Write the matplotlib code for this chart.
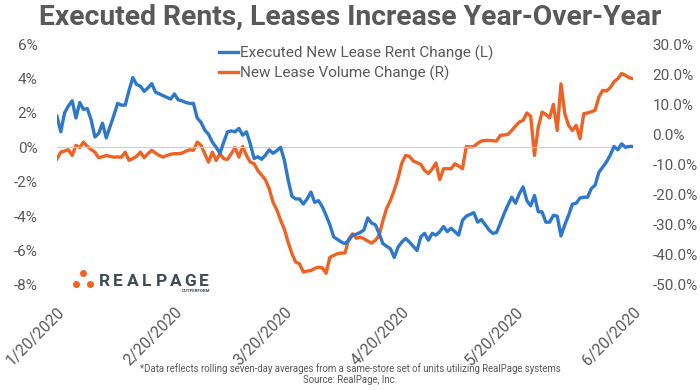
import numpy as np
import pandas as pd
import matplotlib
matplotlib.use("Agg")
import matplotlib.pyplot as plt
import matplotlib.dates as mdates
from matplotlib.ticker import FuncFormatter

plt.rcParams['font.family'] = ['Roboto', 'DejaVu Sans']

# daily rolling 7-day averages, 1/20/2020 .. 6/20/2020
dates = pd.date_range("2020-01-20", "2020-06-20", freq="D")

# Executed New Lease Rent Change (L), %
rent_change = [
    1.8, 0.9, 2.0, 2.4, 2.7, 1.7, 2.6, 2.2, 2.25, 1.6,
    0.6, 0.8, 1.4, 0.55, 1.2, 1.85, 2.55, 2.45, 2.45, 3.3,
    4.05, 3.65, 3.55, 3.25, 3.45, 3.7, 3.2, 3.1, 3.0, 2.9,
    2.8, 3.1, 2.75, 2.7, 2.6, 2.55, 2.55, 1.7, 1.45, 1.0,
    0.75, 0.3, 0.0, -0.35, 0.3, 0.9, 0.95, 0.9, 1.1, 0.7,
    0.9, 0.2, -0.65, -0.55, -0.7, -0.45, -0.15, -0.35, -0.2, 0.0,
    -0.75, -1.9, -2.85, -3.0, -3.0, -3.3, -3.0, -2.6, -3.2, -3.1,
    -3.45, -3.95, -4.5, -5.2, -5.35, -5.5, -5.6, -5.4, -5.1, -5.05,
    -4.95, -4.8, -4.1, -4.4, -4.5, -5.0, -5.6, -5.75, -5.9, -6.4,
    -5.8, -5.5, -5.3, -5.5, -5.75, -6.0, -5.2, -5.0, -5.4, -5.0,
    -5.1, -4.9, -4.6, -4.9, -4.7, -4.9, -5.1, -4.25, -4.0, -3.9,
    -3.8, -4.35, -4.2, -4.5, -4.8, -5.0, -4.95, -4.4, -3.85, -3.35,
    -2.9, -3.25, -2.7, -2.3, -3.1, -3.4, -2.8, -3.75, -3.75, -4.35,
    -4.35, -3.95, -4.0, -5.15, -4.5, -3.95, -3.3, -3.25, -2.95, -2.9,
    -2.9, -2.4, -2.2, -1.45, -1.15, -0.85, -0.45, 0.05, -0.15, 0.2,
    0.0, 0.05, 0.05,
]

# New Lease Volume Change (R), %
volume_change = [
    -8.1, -5.9, -5.5, -5.1, -7.0, -3.65, -4.4, -2.55, -4.0, -5.0,
    -5.9, -7.75, -7.4, -7.0, -7.3, -7.55, -7.5, -7.55, -5.9, -8.65,
    -8.0, -7.3, -5.9, -7.75, -6.4, -5.3, -6.2, -7.0, -7.55, -7.0,
    -6.6, -6.4, -6.4, -6.2, -5.6, -5.1, -5.3, -2.55, -3.65, -6.4,
    -9.2, -5.9, -8.65, -6.4, -8.1, -8.3, -6.4, -4.4, -7.55, -4.0,
    -7.0, -9.2, -9.75, -12.0, -13.5, -15.05, -18.05, -22.5, -25.0, -28.5,
    -31.5, -35.8, -39.6, -42.4, -42.95, -45.7, -45.4, -45.2, -44.5, -44.1,
    -44.3, -46.1, -40.8, -40.2, -39.6, -39.4, -39.4, -34.65, -33.0, -34.5,
    -34.1, -34.65, -35.4, -36.1, -35.2, -33.55, -28.6, -24.5, -21.9, -18.5,
    -14.5, -9.5, -7.0, -7.3, -8.85, -9.4, -9.95, -11.95, -13.0, -11.5,
    -9.5, -15.05, -11.4, -11.4, -11.4, -9.75, -10.5, -11.4, -4.0, -4.2,
    -4.0, -3.0, -2.2, -2.0, -2.0, -2.1, -2.2, -0.3, -0.2, 0.0,
    1.3, 2.8, 4.1, 4.65, 7.1, 6.0, -7.0, 2.4, 7.4, 6.65,
    5.5, 10.0, 1.3, 16.8, 6.9, 3.0, 1.3, 3.0, -1.45, 6.9,
    7.1, 7.5, 8.0, 12.4, 14.6, 14.4, 15.5, 17.5, 18.5, 20.2,
    19.6, 18.8, 18.5,
]

tick_dates = pd.to_datetime(["2020-01-20", "2020-02-20", "2020-03-20",
                             "2020-04-20", "2020-05-20", "2020-06-20"])

BLUE = "#2E78CC"
ORANGE = "#EE6223"
GRAY = "#595959"

fig = plt.figure(figsize=(7, 3.9), dpi=100)
ax = fig.add_axes([57 / 700, 1 - 285 / 390, (633 - 57) / 700, (285 - 44) / 390])
ax2 = ax.twinx()

ax.axhline(0, color="#D0D0D0", lw=0.9, zorder=0)
l1, = ax.plot(dates, rent_change, color=BLUE, lw=2.4, solid_joinstyle="round",
              label="Executed New Lease Rent Change (L)")
l2, = ax2.plot(dates, volume_change, color=ORANGE, lw=2.4, solid_joinstyle="round",
               label="New Lease Volume Change (R)")
ax.set_zorder(ax2.get_zorder() + 1)
ax.patch.set_visible(False)

ax.set_xlim(dates[0], dates[-1])
ax.set_ylim(-8, 6)
ax.set_yticks(np.arange(-8, 7, 2))
ax.yaxis.set_major_formatter(FuncFormatter(lambda v, p: f"{v:.0f}%"))
ax2.set_ylim(-50, 30)
ax2.set_yticks(np.arange(-50, 31, 10))
ax2.yaxis.set_major_formatter(FuncFormatter(lambda v, p: f"{v:.1f}%"))

ax.set_xticks(tick_dates)
ax.xaxis.set_major_formatter(mdates.DateFormatter("%-m/%d/%Y"))
for lab in ax.get_xticklabels():
    lab.set_rotation(45)
    lab.set_ha("right")
    lab.set_va("top")
    lab.set_rotation_mode("anchor")
    lab.set_fontsize(11.3)

for a in (ax, ax2):
    for s in a.spines.values():
        s.set_visible(False)
    a.tick_params(axis="y", length=0, colors=GRAY, labelsize=11, pad=14)
ax.tick_params(axis="x", length=0, colors=GRAY, pad=14)

leg = ax.legend(handles=[l1, l2], loc="upper left", bbox_to_anchor=(0.27, 1.02),
                frameon=False, fontsize=11, handlelength=1.3, handletextpad=0.1,
                labelspacing=0.3, borderaxespad=0)
for t in leg.get_texts():
    t.set_color(GRAY)

fig.text(0.5, 0.955, "Executed Rents, Leases Increase Year-Over-Year",
         ha="center", va="center", fontsize=20.3, fontweight="bold", color=GRAY)

fig.text(0.5, 1 - 369 / 390,
         "*Data reflects rolling seven-day averages from a same-store set of units utilizing RealPage systems",
         ha="center", va="center", fontsize=6.9, color=GRAY)
fig.text(0.5, 1 - 380 / 390, "Source: RealPage, Inc.",
         ha="center", va="center", fontsize=6.9, color=GRAY)

# RealPage logo
dots_x = [83 / 700, 76 / 700, 90 / 700]
dots_y = [1 - 273 / 390, 1 - 284 / 390, 1 - 284 / 390]
fig.add_artist(plt.Line2D(dots_x, dots_y, ls="none", marker="o", ms=4,
                          color=ORANGE, transform=fig.transFigure))
for i, ch in enumerate("REALPAGE"):
    fig.text((99 + i * 14.2) / 700, 1 - 281 / 390, ch, ha="left", va="center",
             fontsize=12.5, fontweight="bold", color="#3E4A54")
fig.text(210 / 700, 1 - 289 / 390, "OUTPERFORM", ha="right", va="top",
         fontsize=3.2, fontweight="bold", color="#3E4A54")

fig.savefig("out.png", dpi=100)
